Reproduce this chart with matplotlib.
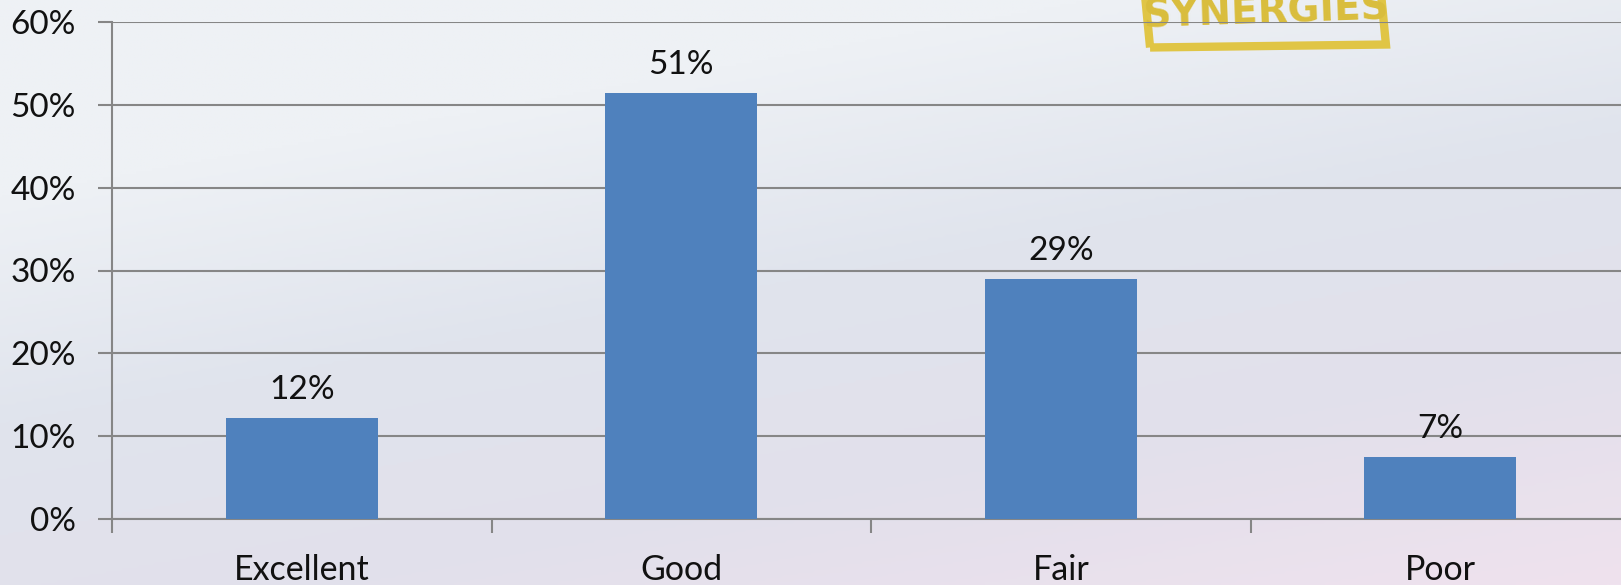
import numpy as np
import matplotlib
matplotlib.use("Agg")
import matplotlib.pyplot as plt
from matplotlib.colors import LinearSegmentedColormap
from matplotlib.patches import Rectangle
import matplotlib.transforms as mtransforms

categories = ['Excellent', 'Good', 'Fair', 'Poor']
values = [0.122, 0.514, 0.29, 0.075]
labels = ['12%', '51%', '29%', '7%']
yticks = [0, 0.1, 0.2, 0.3, 0.4, 0.5, 0.6]

plt.rcParams['font.family'] = ['Lato', 'DejaVu Sans']

fig = plt.figure(figsize=(16.21, 5.85), dpi=100)

# slide background: grey-blue with a pink tint towards the bottom
bg = fig.add_axes([0, 0, 1, 1], zorder=0)
yy, xx = np.mgrid[0:1:200j, 0:1:400j]
t = np.clip(0.6 * yy + 0.3 * xx - 0.2, 0, 1)
cmap = LinearSegmentedColormap.from_list('bg', ['#eef1f5', '#e0e4ed', '#e2e0eb', '#efe2ee'])
bg.imshow(t, cmap=cmap, aspect='auto', extent=[0, 1, 0, 1], origin='upper')
bg.set_xlim(0, 1)
bg.set_ylim(0, 1)
bg.axis('off')

# logo frame at top right, cut off by the top edge
W, H = 1621, 585
tr = mtransforms.Affine2D().rotate_deg_around(1268 / W, 1 - 46 / H, 2) + bg.transData
frame = Rectangle((1150 / W, 1 - 46 / H), 236 / W, 0.15, fill=False,
                  edgecolor='#e0c545', linewidth=6, transform=tr)
frame.set_clip_on(False)
bg.add_patch(frame)
bg.text(1266 / W, 1 - 12 / H, 'SYNERGIES', color='#d9bd3c', fontsize=28,
        fontweight='bold', ha='center', va='center', rotation=2,
        fontfamily='DejaVu Sans Condensed')

ax = fig.add_axes([112 / W, 66 / H, 1518 / W, 497 / H], zorder=1)
ax.patch.set_alpha(0)

x = np.arange(len(categories))
ax.bar(x, values, width=0.4, color='#4f81bd', zorder=3)
for xi, v, lab in zip(x, values, labels):
    ax.text(xi, v + 0.016, lab, ha='center', va='bottom', fontsize=24, color='#111111')

ax.set_xlim(-0.5, len(categories) - 0.5)
ax.set_ylim(0, 0.6)
ax.set_yticks(yticks)
ax.set_yticklabels([f'{int(round(v * 100))}%' for v in yticks])
ax.set_xticks(x)
ax.set_xticklabels(categories)
ax.set_xticks(np.arange(len(categories)) - 0.5, minor=True)
ax.tick_params(axis='x', which='major', length=0, pad=25, labelsize=24.5)
ax.tick_params(axis='x', which='minor', length=10, width=1.5, color='#868686')
ax.tick_params(axis='y', length=10, width=1.5, color='#868686', labelsize=24, pad=16)
for lab in ax.get_yticklabels() + ax.get_xticklabels():
    lab.set_color('#111111')

ax.grid(axis='y', color='#868686', linewidth=1.5, zorder=1)
for s in ['top', 'right']:
    ax.spines[s].set_visible(False)
for s in ['left', 'bottom']:
    ax.spines[s].set_color('#868686')
    ax.spines[s].set_linewidth(1.5)

fig.savefig('out.png', dpi=100)
